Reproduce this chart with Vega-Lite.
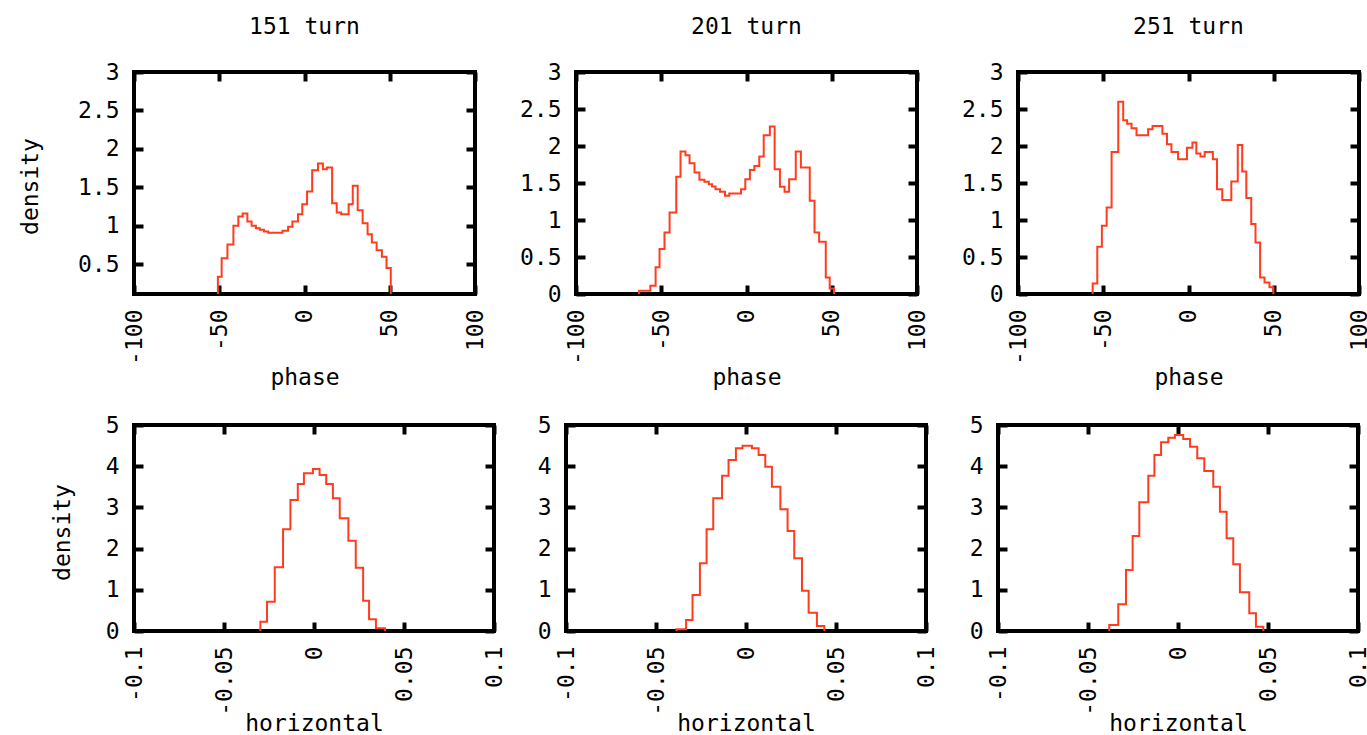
{
  "$schema": "https://vega.github.io/schema/vega-lite/v6.json",
  "background": "white",
  "padding": {"left": 17, "top": 14, "right": 2, "bottom": 2},
  "bounds": "flush",
  "spacing": 353,
  "datasets": {
    "p151": [
      {"x": -50.8, "y": 0}, {"x": -50.8, "y": 0.334}, {"x": -48.6, "y": 0.577}, {"x": -45.2, "y": 0.754}, {"x": -41.7, "y": 0.997},
      {"x": -38.8, "y": 1.118}, {"x": -36.3, "y": 1.157}, {"x": -33.5, "y": 1.053}, {"x": -31.0, "y": 0.997}, {"x": -28.5, "y": 0.967},
      {"x": -26.2, "y": 0.945}, {"x": -23.8, "y": 0.923}, {"x": -21.3, "y": 0.906}, {"x": -18.6, "y": 0.906}, {"x": -15.9, "y": 0.906},
      {"x": -12.9, "y": 0.932}, {"x": -9.6, "y": 0.984}, {"x": -7.1, "y": 1.053}, {"x": -3.8, "y": 1.149}, {"x": -1.3, "y": 1.28},
      {"x": 1.5, "y": 1.444}, {"x": 4.5, "y": 1.722}, {"x": 7.9, "y": 1.81}, {"x": 10.8, "y": 1.735}, {"x": 13.1, "y": 1.756},
      {"x": 16.2, "y": 1.293}, {"x": 18.9, "y": 1.17}, {"x": 21.5, "y": 1.149}, {"x": 23.7, "y": 1.149}, {"x": 25.9, "y": 1.28},
      {"x": 28.3, "y": 1.518}, {"x": 31.2, "y": 1.2}, {"x": 34.1, "y": 1.03}, {"x": 37.0, "y": 0.889}, {"x": 39.5, "y": 0.78},
      {"x": 42.3, "y": 0.681}, {"x": 45.4, "y": 0.594}, {"x": 48.1, "y": 0.447}, {"x": 50.6, "y": 0}
    ],
    "p201": [
      {"x": -63.0, "y": 0}, {"x": -63.0, "y": 0.045}, {"x": -56.4, "y": 0.112}, {"x": -53.3, "y": 0.36}, {"x": -51.0, "y": 0.607},
      {"x": -48.1, "y": 0.832}, {"x": -45.1, "y": 1.10}, {"x": -41.2, "y": 1.583}, {"x": -38.7, "y": 1.925}, {"x": -35.8, "y": 1.876},
      {"x": -33.4, "y": 1.768}, {"x": -30.5, "y": 1.641}, {"x": -27.6, "y": 1.543}, {"x": -24.7, "y": 1.516}, {"x": -22.1, "y": 1.484},
      {"x": -20.2, "y": 1.452}, {"x": -18.2, "y": 1.417}, {"x": -15.5, "y": 1.381}, {"x": -12.6, "y": 1.327}, {"x": -10.1, "y": 1.358},
      {"x": -7.0, "y": 1.358}, {"x": -3.2, "y": 1.417}, {"x": -0.7, "y": 1.552}, {"x": 2.0, "y": 1.677}, {"x": 4.6, "y": 1.731},
      {"x": 7.5, "y": 1.857}, {"x": 10.1, "y": 2.146}, {"x": 13.7, "y": 2.262}, {"x": 16.5, "y": 1.687}, {"x": 19.6, "y": 1.448},
      {"x": 22.3, "y": 1.381}, {"x": 25.0, "y": 1.552}, {"x": 28.9, "y": 1.925}, {"x": 31.9, "y": 1.709}, {"x": 37.1, "y": 1.259},
      {"x": 39.9, "y": 0.832}, {"x": 42.6, "y": 0.706}, {"x": 46.5, "y": 0.224}, {"x": 48.8, "y": 0.076}, {"x": 51.3, "y": 0}
    ],
    "p251": [
      {"x": -56.2, "y": 0}, {"x": -56.2, "y": 0.143}, {"x": -53.5, "y": 0.638}, {"x": -50.8, "y": 0.922}, {"x": -48.0, "y": 1.169},
      {"x": -45.1, "y": 1.920}, {"x": -41.2, "y": 2.599}, {"x": -38.3, "y": 2.348}, {"x": -36.0, "y": 2.302}, {"x": -33.4, "y": 2.24},
      {"x": -30.5, "y": 2.146}, {"x": -27.0, "y": 2.146}, {"x": -23.7, "y": 2.227}, {"x": -21.1, "y": 2.271}, {"x": -18.2, "y": 2.271},
      {"x": -15.3, "y": 2.167}, {"x": -12.6, "y": 2.024}, {"x": -10.0, "y": 1.920}, {"x": -6.1, "y": 1.822}, {"x": -3.5, "y": 1.822},
      {"x": -0.9, "y": 1.978}, {"x": 2.3, "y": 2.046}, {"x": 4.6, "y": 1.898}, {"x": 7.0, "y": 1.857}, {"x": 9.5, "y": 1.920},
      {"x": 12.0, "y": 1.920}, {"x": 14.3, "y": 1.822}, {"x": 16.7, "y": 1.417}, {"x": 19.8, "y": 1.269}, {"x": 22.5, "y": 1.269},
      {"x": 25.1, "y": 1.52}, {"x": 28.9, "y": 2.015}, {"x": 31.5, "y": 1.655}, {"x": 33.9, "y": 1.296}, {"x": 36.8, "y": 0.945},
      {"x": 39.3, "y": 0.697}, {"x": 42.0, "y": 0.224}, {"x": 44.6, "y": 0.157}, {"x": 47.5, "y": 0.09}, {"x": 49.8, "y": 0}
    ],
    "h151": [
      {"x": -0.0298, "y": 0}, {"x": -0.0298, "y": 0.226}, {"x": -0.0261, "y": 0.711}, {"x": -0.0218, "y": 1.546}, {"x": -0.0172, "y": 2.468},
      {"x": -0.0131, "y": 3.18}, {"x": -0.0090, "y": 3.568}, {"x": -0.0056, "y": 3.827}, {"x": -0.0006, "y": 3.932}, {"x": 0.0031, "y": 3.786},
      {"x": 0.0068, "y": 3.568}, {"x": 0.0105, "y": 3.22}, {"x": 0.0143, "y": 2.735}, {"x": 0.0191, "y": 2.192}, {"x": 0.0232, "y": 1.537},
      {"x": 0.0273, "y": 0.735}, {"x": 0.0306, "y": 0.284}, {"x": 0.0344, "y": 0.065}, {"x": 0.0395, "y": 0}
    ],
    "h201": [
      {"x": -0.0386, "y": 0}, {"x": -0.0386, "y": 0.041}, {"x": -0.0333, "y": 0.267}, {"x": -0.0297, "y": 0.874}, {"x": -0.0256, "y": 1.643},
      {"x": -0.0219, "y": 2.468}, {"x": -0.0182, "y": 3.22}, {"x": -0.0133, "y": 3.77}, {"x": -0.0097, "y": 4.15}, {"x": -0.0056, "y": 4.434},
      {"x": -0.0019, "y": 4.498}, {"x": 0.0033, "y": 4.434}, {"x": 0.0070, "y": 4.272}, {"x": 0.0107, "y": 3.988}, {"x": 0.0144, "y": 3.502},
      {"x": 0.0191, "y": 2.954}, {"x": 0.0231, "y": 2.427}, {"x": 0.0268, "y": 1.765}, {"x": 0.0311, "y": 0.978}, {"x": 0.0348, "y": 0.444},
      {"x": 0.0394, "y": 0.121}, {"x": 0.0435, "y": 0}
    ],
    "h251": [
      {"x": -0.0382, "y": 0}, {"x": -0.0382, "y": 0.146}, {"x": -0.0332, "y": 0.648}, {"x": -0.0289, "y": 1.48}, {"x": -0.0252, "y": 2.306},
      {"x": -0.0215, "y": 3.124}, {"x": -0.0165, "y": 3.77}, {"x": -0.0131, "y": 4.272}, {"x": -0.0094, "y": 4.58}, {"x": -0.0054, "y": 4.692},
      {"x": -0.0017, "y": 4.757}, {"x": 0.0029, "y": 4.66}, {"x": 0.0067, "y": 4.474}, {"x": 0.0107, "y": 4.19}, {"x": 0.0146, "y": 3.883},
      {"x": 0.0196, "y": 3.502}, {"x": 0.0233, "y": 2.896}, {"x": 0.0270, "y": 2.25}, {"x": 0.0307, "y": 1.619}, {"x": 0.0344, "y": 0.939},
      {"x": 0.0396, "y": 0.429}, {"x": 0.0433, "y": 0.104}, {"x": 0.0474, "y": 0}
    ]
  },
  "vconcat": [
    {
      "bounds": "flush",
      "spacing": 101,
      "hconcat": [
        {
          "width": 341, "height": 222,
          "title": {"text": "151 turn", "baseline": "alphabetic", "offset": 4},
          "data": {"name": "p151"},
          "layer": [
            {
              "mark": {"type": "line", "interpolate": "step-after", "color": "#ff3c1e", "strokeWidth": 2, "clip": true},
              "encoding": {
                "x": {"field": "x", "type": "quantitative", "scale": {"domain": [-100, 100], "nice": false, "zero": false},
                  "axis": {"orient": "bottom", "values": [-100, -50, 0, 50, 100], "labelExpr": "replace(format(datum.value, '~r'), '\u2212', '-')", "labelAngle": -90, "title": "phase", "titleY": 90, "titleBaseline": "alphabetic"}},
                "y": {"field": "y", "type": "quantitative", "scale": {"domain": [0.11, 3], "nice": false, "zero": false},
                  "axis": {"orient": "left", "values": [0.5, 1, 1.5, 2, 2.5, 3], "labelExpr": "replace(format(datum.value, '~r'), '\u2212', '-')", "title": "density", "titleX": -96.5, "titleY": 114, "titleAngle": -90, "titleBaseline": "alphabetic"}},
                "order": {"value": null}
              }
            },
            {
              "mark": {"type": "line", "opacity": 0},
              "encoding": {
                "x": {"field": "x", "type": "quantitative", "scale": {"domain": [-100, 100], "nice": false, "zero": false},
                  "axis": {"orient": "top", "values": [-100, -50, 0, 50, 100], "labels": false, "title": null}},
                "y": {"field": "y", "type": "quantitative", "scale": {"domain": [0.11, 3], "nice": false, "zero": false},
                  "axis": {"orient": "right", "values": [0.5, 1, 1.5, 2, 2.5, 3], "labels": false, "title": null}}
              }
            }
          ],
          "resolve": {"axis": {"x": "independent", "y": "independent"}}
        },
        {
          "width": 341, "height": 222,
          "title": {"text": "201 turn", "baseline": "alphabetic", "offset": 4},
          "data": {"name": "p201"},
          "layer": [
            {
              "mark": {"type": "line", "interpolate": "step-after", "color": "#ff3c1e", "strokeWidth": 2, "clip": true},
              "encoding": {
                "x": {"field": "x", "type": "quantitative", "scale": {"domain": [-100, 100], "nice": false, "zero": false},
                  "axis": {"orient": "bottom", "values": [-100, -50, 0, 50, 100], "labelExpr": "replace(format(datum.value, '~r'), '\u2212', '-')", "labelAngle": -90, "title": "phase", "titleY": 90, "titleBaseline": "alphabetic"}},
                "y": {"field": "y", "type": "quantitative", "scale": {"domain": [0, 3], "nice": false, "zero": false},
                  "axis": {"orient": "left", "values": [0, 0.5, 1, 1.5, 2, 2.5, 3], "labelExpr": "replace(format(datum.value, '~r'), '\u2212', '-')", "title": null}},
                "order": {"value": null}
              }
            },
            {
              "mark": {"type": "line", "opacity": 0},
              "encoding": {
                "x": {"field": "x", "type": "quantitative", "scale": {"domain": [-100, 100], "nice": false, "zero": false},
                  "axis": {"orient": "top", "values": [-100, -50, 0, 50, 100], "labels": false, "title": null}},
                "y": {"field": "y", "type": "quantitative", "scale": {"domain": [0, 3], "nice": false, "zero": false},
                  "axis": {"orient": "right", "values": [0, 0.5, 1, 1.5, 2, 2.5, 3], "labels": false, "title": null}}
              }
            }
          ],
          "resolve": {"axis": {"x": "independent", "y": "independent"}}
        },
        {
          "width": 341, "height": 222,
          "title": {"text": "251 turn", "baseline": "alphabetic", "offset": 4},
          "data": {"name": "p251"},
          "layer": [
            {
              "mark": {"type": "line", "interpolate": "step-after", "color": "#ff3c1e", "strokeWidth": 2, "clip": true},
              "encoding": {
                "x": {"field": "x", "type": "quantitative", "scale": {"domain": [-100, 100], "nice": false, "zero": false},
                  "axis": {"orient": "bottom", "values": [-100, -50, 0, 50, 100], "labelExpr": "replace(format(datum.value, '~r'), '\u2212', '-')", "labelAngle": -90, "title": "phase", "titleY": 90, "titleBaseline": "alphabetic"}},
                "y": {"field": "y", "type": "quantitative", "scale": {"domain": [0, 3], "nice": false, "zero": false},
                  "axis": {"orient": "left", "values": [0, 0.5, 1, 1.5, 2, 2.5, 3], "labelExpr": "replace(format(datum.value, '~r'), '\u2212', '-')", "title": null}},
                "order": {"value": null}
              }
            },
            {
              "mark": {"type": "line", "opacity": 0},
              "encoding": {
                "x": {"field": "x", "type": "quantitative", "scale": {"domain": [-100, 100], "nice": false, "zero": false},
                  "axis": {"orient": "top", "values": [-100, -50, 0, 50, 100], "labels": false, "title": null}},
                "y": {"field": "y", "type": "quantitative", "scale": {"domain": [0, 3], "nice": false, "zero": false},
                  "axis": {"orient": "right", "values": [0, 0.5, 1, 1.5, 2, 2.5, 3], "labels": false, "title": null}}
              }
            }
          ],
          "resolve": {"axis": {"x": "independent", "y": "independent"}}
        }
      ]
    },
    {
      "bounds": "flush",
      "spacing": 72,
      "hconcat": [
        {
          "width": 360, "height": 206,
          "data": {"name": "h151"},
          "layer": [
            {
              "mark": {"type": "line", "interpolate": "step-after", "color": "#ff3c1e", "strokeWidth": 2, "clip": true},
              "encoding": {
                "x": {"field": "x", "type": "quantitative", "scale": {"domain": [-0.1, 0.1], "nice": false, "zero": false},
                  "axis": {"orient": "bottom", "values": [-0.1, -0.05, 0, 0.05, 0.1], "labelExpr": "replace(format(datum.value, '~r'), '\u2212', '-')", "labelAngle": -90, "title": "horizontal", "titleY": 99, "titleBaseline": "alphabetic"}},
                "y": {"field": "y", "type": "quantitative", "scale": {"domain": [0, 5], "nice": false, "zero": false},
                  "axis": {"orient": "left", "values": [0, 1, 2, 3, 4, 5], "labelExpr": "replace(format(datum.value, '~r'), '\u2212', '-')", "title": "density", "titleX": -64.5, "titleY": 107, "titleAngle": -90, "titleBaseline": "alphabetic"}},
                "order": {"value": null}
              }
            },
            {
              "mark": {"type": "line", "opacity": 0},
              "encoding": {
                "x": {"field": "x", "type": "quantitative", "scale": {"domain": [-0.1, 0.1], "nice": false, "zero": false},
                  "axis": {"orient": "top", "values": [-0.1, -0.05, 0, 0.05, 0.1], "labels": false, "title": null}},
                "y": {"field": "y", "type": "quantitative", "scale": {"domain": [0, 5], "nice": false, "zero": false},
                  "axis": {"orient": "right", "values": [0, 1, 2, 3, 4, 5], "labels": false, "title": null}}
              }
            }
          ],
          "resolve": {"axis": {"x": "independent", "y": "independent"}}
        },
        {
          "width": 360, "height": 206,
          "data": {"name": "h201"},
          "layer": [
            {
              "mark": {"type": "line", "interpolate": "step-after", "color": "#ff3c1e", "strokeWidth": 2, "clip": true},
              "encoding": {
                "x": {"field": "x", "type": "quantitative", "scale": {"domain": [-0.1, 0.1], "nice": false, "zero": false},
                  "axis": {"orient": "bottom", "values": [-0.1, -0.05, 0, 0.05, 0.1], "labelExpr": "replace(format(datum.value, '~r'), '\u2212', '-')", "labelAngle": -90, "title": "horizontal", "titleY": 99, "titleBaseline": "alphabetic"}},
                "y": {"field": "y", "type": "quantitative", "scale": {"domain": [0, 5], "nice": false, "zero": false},
                  "axis": {"orient": "left", "values": [0, 1, 2, 3, 4, 5], "labelExpr": "replace(format(datum.value, '~r'), '\u2212', '-')", "title": null}},
                "order": {"value": null}
              }
            },
            {
              "mark": {"type": "line", "opacity": 0},
              "encoding": {
                "x": {"field": "x", "type": "quantitative", "scale": {"domain": [-0.1, 0.1], "nice": false, "zero": false},
                  "axis": {"orient": "top", "values": [-0.1, -0.05, 0, 0.05, 0.1], "labels": false, "title": null}},
                "y": {"field": "y", "type": "quantitative", "scale": {"domain": [0, 5], "nice": false, "zero": false},
                  "axis": {"orient": "right", "values": [0, 1, 2, 3, 4, 5], "labels": false, "title": null}}
              }
            }
          ],
          "resolve": {"axis": {"x": "independent", "y": "independent"}}
        },
        {
          "width": 360, "height": 206,
          "data": {"name": "h251"},
          "layer": [
            {
              "mark": {"type": "line", "interpolate": "step-after", "color": "#ff3c1e", "strokeWidth": 2, "clip": true},
              "encoding": {
                "x": {"field": "x", "type": "quantitative", "scale": {"domain": [-0.1, 0.1], "nice": false, "zero": false},
                  "axis": {"orient": "bottom", "values": [-0.1, -0.05, 0, 0.05, 0.1], "labelExpr": "replace(format(datum.value, '~r'), '\u2212', '-')", "labelAngle": -90, "title": "horizontal", "titleY": 99, "titleBaseline": "alphabetic"}},
                "y": {"field": "y", "type": "quantitative", "scale": {"domain": [0, 5], "nice": false, "zero": false},
                  "axis": {"orient": "left", "values": [0, 1, 2, 3, 4, 5], "labelExpr": "replace(format(datum.value, '~r'), '\u2212', '-')", "title": null}},
                "order": {"value": null}
              }
            },
            {
              "mark": {"type": "line", "opacity": 0},
              "encoding": {
                "x": {"field": "x", "type": "quantitative", "scale": {"domain": [-0.1, 0.1], "nice": false, "zero": false},
                  "axis": {"orient": "top", "values": [-0.1, -0.05, 0, 0.05, 0.1], "labels": false, "title": null}},
                "y": {"field": "y", "type": "quantitative", "scale": {"domain": [0, 5], "nice": false, "zero": false},
                  "axis": {"orient": "right", "values": [0, 1, 2, 3, 4, 5], "labels": false, "title": null}}
              }
            }
          ],
          "resolve": {"axis": {"x": "independent", "y": "independent"}}
        }
      ]
    }
  ],
  "config": {
    "font": "DejaVu Sans Mono",
    "view": {"stroke": "black", "strokeWidth": 4},
    "axis": {
      "domain": false, "grid": false,
      "ticks": true, "tickColor": "black", "tickWidth": 4, "tickSize": -9,
      "labelFont": "DejaVu Sans Mono", "labelFontSize": 23, "labelColor": "black", "labelPadding": 24,
      "labelOverlap": false, "labelFlush": false, "labelBound": false,
      "titleFont": "DejaVu Sans Mono", "titleFontSize": 23, "titleFontWeight": "normal", "titleColor": "black"
    },
    "title": {"font": "DejaVu Sans Mono", "fontSize": 23, "fontWeight": "normal", "color": "black"}
  }
}
